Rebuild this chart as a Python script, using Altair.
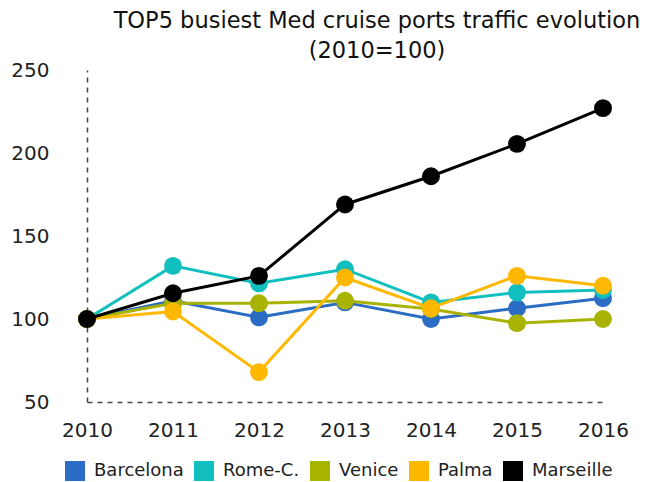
import altair as alt
import pandas as pd

years = [2010, 2011, 2012, 2013, 2014, 2015, 2016]
series_names = ["Barcelona", "Rome-C.", "Venice", "Palma", "Marseille"]
barcelona = [100, 111, 101, 110, 100, 106.5, 112.5]
rome = [100, 132, 121.5, 130, 110, 116, 117.5]
venice = [100, 109.5, 109.5, 111, 106, 97.5, 100]
palma = [100, 104.5, 68, 125, 106.5, 126, 120]
marseille = [100, 115.5, 126, 169, 186, 205.5, 227]
colors = ["#2B6CC4", "#12BFBF", "#A8B300", "#FFB800", "#000000"]

values = [barcelona, rome, venice, palma, marseille]
rows = []
for name, vals in zip(series_names, values):
    for y, v in zip(years, vals):
        rows.append({"Year": y, "Port": name, "Value": v})
df = pd.DataFrame(rows)

FONT = "DejaVu Sans"

color_scale = alt.Scale(domain=series_names, range=colors)
x_enc = alt.X("Year:Q", scale=alt.Scale(domain=[2010, 2016], nice=False),
              axis=alt.Axis(values=years, format="d", title=None, grid=False, ticks=False,
                            domainDash=[5, 5], domainColor="#444444", domainWidth=1.5,
                            labelFontSize=20, labelColor="#222222", labelPadding=18,
                            labelFont=FONT, labelFlush=False))
y_enc = alt.Y("Value:Q", scale=alt.Scale(domain=[50, 250], nice=False),
              axis=alt.Axis(values=[50, 100, 150, 200, 250], title=None, grid=False, ticks=False,
                            domainDash=[5, 5], domainColor="#444444", domainWidth=1.5,
                            labelFontSize=20, labelColor="#222222", labelPadding=38,
                            labelFont=FONT, labelFlush=False))
legend = alt.Legend(title=None, orient="none", direction="horizontal",
                    legendX=-22, legendY=391, symbolType="square",
                    symbolSize=400, symbolStrokeWidth=0, labelFontSize=18,
                    labelFont=FONT, labelColor="#222222",
                    columnPadding=10, labelOffset=9)
color_enc = alt.Color("Port:N", scale=color_scale, legend=legend)

layers = []
for name in series_names:
    base = alt.Chart(df).transform_filter(alt.datum.Port == name)
    layers.append(base.mark_line(strokeWidth=3).encode(x=x_enc, y=y_enc, color=color_enc))
    layers.append(base.mark_circle(size=320, opacity=1).encode(x=x_enc, y=y_enc, color=color_enc))

chart = alt.layer(*layers).properties(
    width=516, height=332,
    title=alt.TitleParams(["TOP5 busiest Med cruise ports traffic evolution", "(2010=100)"],
                          fontSize=22.5, fontWeight="normal", font=FONT, color="#111111",
                          anchor="middle", dx=32, dy=10, offset=8, lineHeight=30),
    padding={"left": 79, "top": 62, "right": 40, "bottom": 80},
    autosize=alt.AutoSizeParams(type="none"),
).configure_view(stroke=None).configure_legend(symbolType="square", symbolFillColor=None)

chart.save("out.html", embed_options={"renderer": "svg", "actions": False})
